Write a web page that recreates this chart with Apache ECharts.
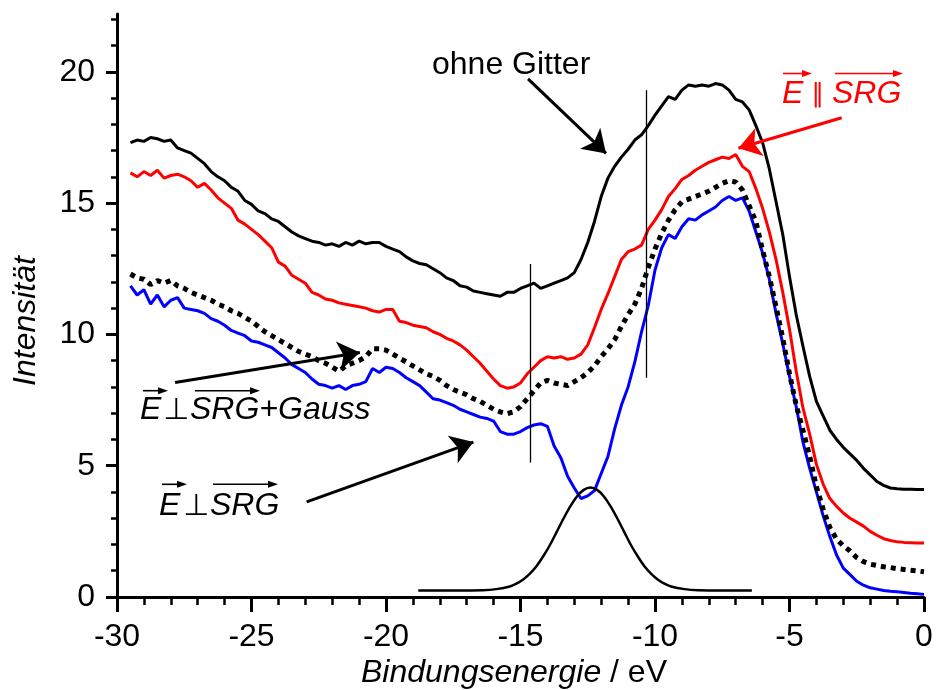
<!DOCTYPE html>
<html>
<head>
<meta charset="utf-8">
<script src="https://cdn.jsdelivr.net/npm/echarts@6/dist/echarts.min.js"></script>
<style>
html, body { margin: 0; padding: 0; background: #fff; }
#chart { width: 936px; height: 690px; }
</style>
</head>
<body>
<div id="chart"></div>
<script>
// Bindungsenergie (eV), gemeinsame Stützstellen der vier Spektren
var energy = [
  -29.5, -29.25, -29, -28.75, -28.5, -28.25, -28, -27.75,
  -27.5, -27.25, -27, -26.75, -26.5, -26.25, -26, -25.75,
  -25.5, -25.25, -25, -24.75, -24.5, -24.25, -24, -23.75,
  -23.5, -23.25, -23, -22.75, -22.5, -22.25, -22, -21.75,
  -21.5, -21.25, -21, -20.75, -20.5, -20.25, -20, -19.75,
  -19.5, -19.25, -19, -18.75, -18.5, -18.25, -18, -17.75,
  -17.5, -17.25, -17, -16.75, -16.5, -16.25, -16, -15.75,
  -15.5, -15.25, -15, -14.75, -14.5, -14.25, -14, -13.75,
  -13.5, -13.25, -13, -12.75, -12.5, -12.25, -12, -11.75,
  -11.5, -11.25, -11, -10.75, -10.5, -10.25, -10, -9.75,
  -9.5, -9.25, -9, -8.75, -8.5, -8.25, -8, -7.75,
  -7.5, -7.25, -7, -6.75, -6.5, -6.25, -6, -5.75,
  -5.5, -5.25, -5, -4.75, -4.5, -4.25, -4, -3.75,
  -3.5, -3.25, -3, -2.75, -2.5, -2.25, -2, -1.75,
  -1.5, -1.25, -1, -0.75, -0.5, -0.25, 0
];
// ohne Gitter (schwarz)
var ohneGitter = [
  17.3, 17.4, 17.35, 17.5, 17.45, 17.35, 17.4, 17.1,
  17.0, 16.9, 16.7, 16.5, 16.2, 16.0, 15.85, 15.6,
  15.45, 15.1, 14.95, 14.7, 14.6, 14.4, 14.3, 14.1,
  13.9, 13.75, 13.65, 13.55, 13.5, 13.4, 13.45, 13.35,
  13.5, 13.4, 13.55, 13.45, 13.5, 13.5, 13.35, 13.25,
  13.15, 12.95, 12.8, 12.7, 12.65, 12.5, 12.35, 12.15,
  12.05, 11.85, 11.8, 11.65, 11.6, 11.55, 11.5, 11.45,
  11.6, 11.6, 11.75, 11.85, 11.95, 11.75, 11.85, 11.95,
  12.05, 12.15, 12.35, 12.85, 13.5, 14.3, 15.25, 15.95,
  16.4, 16.75, 17.05, 17.4, 17.6, 17.95, 18.35, 18.7,
  19.05, 18.95, 19.3, 19.5, 19.45, 19.5, 19.45, 19.55,
  19.5, 19.3, 18.95, 18.85, 18.55, 17.95, 17.3, 16.3,
  15.05, 13.8, 12.2, 10.75, 9.55, 8.4, 7.45, 6.9,
  6.35, 6.0, 5.7, 5.45, 5.2, 4.9, 4.65, 4.4,
  4.25, 4.15, 4.12, 4.1, 4.1, 4.09, 4.09
];
// E parallel SRG (rot)
var eParallel = [
  16.15, 16.0, 16.2, 16.05, 16.25, 15.95, 16.05, 16.1,
  16.0, 15.85, 15.6, 15.75, 15.5, 15.2, 15.0, 14.8,
  14.35, 14.2, 14.0, 13.8, 13.55, 13.3, 12.75, 12.6,
  12.25, 12.1, 11.95, 11.6, 11.5, 11.35, 11.3, 11.2,
  11.15, 11.1, 11.05, 11.0, 10.9, 10.85, 10.95, 10.95,
  10.5, 10.45, 10.35, 10.3, 10.25, 10.1, 10.0, 9.85,
  9.75, 9.6, 9.4, 9.15, 8.9, 8.6, 8.3, 8.05,
  7.95, 8.0, 8.15, 8.5, 8.75, 9.0, 9.15, 9.1,
  9.15, 9.05, 9.1, 9.25, 9.6, 10.25, 10.95, 11.55,
  12.2, 12.85, 13.15, 13.25, 13.4, 14.0, 14.35, 14.75,
  15.25, 15.55, 15.9, 16.05, 16.25, 16.4, 16.55, 16.65,
  16.75, 16.7, 16.85, 16.4, 16.2, 15.55, 14.8, 13.9,
  12.85, 11.6, 10.2, 8.6, 7.2, 6.2, 5.05, 4.3,
  3.75, 3.45, 3.2, 3.0, 2.85, 2.7, 2.5, 2.35,
  2.22, 2.15, 2.1, 2.08, 2.07, 2.06, 2.06
];
// E senkrecht SRG + Gauss (gepunktet)
var ePerpGauss = [
  12.3, 12.15, 12.1, 11.9, 12.05, 11.95, 12.05, 11.85,
  11.75, 11.6, 11.5, 11.4, 11.3, 11.15, 11.05, 10.9,
  10.8, 10.65, 10.5, 10.3, 10.1, 9.95, 9.8, 9.65,
  9.5, 9.35, 9.25, 9.15, 9.0, 8.9, 8.75, 8.6,
  8.8, 8.9, 9.0, 9.15, 9.45, 9.45, 9.4, 9.25,
  9.1, 8.95, 8.8, 8.65, 8.5, 8.4, 8.25, 8.05,
  7.9, 7.8, 7.7, 7.55, 7.45, 7.3, 7.15, 7.05,
  6.98, 7.05, 7.25, 7.55, 7.85, 8.15, 8.25, 8.15,
  8.1, 8.05, 8.2, 8.35, 8.55, 8.8, 9.15, 9.45,
  9.8, 10.3, 10.75, 11.15, 11.75, 12.55, 13.25, 13.85,
  14.35, 14.75, 15.05, 15.15, 15.25, 15.35, 15.45, 15.6,
  15.75, 15.85, 15.8, 15.5, 14.9, 14.3, 13.2, 12.2,
  11.05, 9.85, 8.5, 7.3, 6.35, 5.35, 4.2, 3.35,
  2.65, 2.2, 1.95, 1.75, 1.5, 1.35, 1.25, 1.2,
  1.15, 1.12, 1.08, 1.05, 1.02, 0.99, 0.96
];
// E senkrecht SRG (blau)
var ePerp = [
  11.85, 11.5, 11.7, 11.15, 11.5, 11.05, 11.3, 11.4,
  11.0, 10.95, 10.9, 10.8, 10.6, 10.5, 10.35, 10.15,
  10.05, 9.95, 9.75, 9.7, 9.6, 9.5, 9.3, 9.1,
  8.85, 8.7, 8.55, 8.3, 8.1, 8.05, 7.95, 8.05,
  7.9, 8.05, 8.1, 8.2, 8.7, 8.55, 8.75, 8.7,
  8.55, 8.35, 8.2, 8.05, 7.8, 7.55, 7.5, 7.4,
  7.3, 7.15, 7.05, 6.95, 6.85, 6.8, 6.7, 6.3,
  6.2, 6.2, 6.3, 6.45, 6.55, 6.6, 6.5, 5.75,
  5.3, 4.6, 4.15, 3.75, 3.85, 4.05, 4.7, 5.35,
  6.4, 7.3, 8.0, 8.95, 10.1, 11.1, 12.45, 13.3,
  13.8, 13.65, 14.1, 14.4, 14.35, 14.55, 14.7, 14.85,
  15.1, 15.25, 15.1, 15.2, 14.7, 13.9, 13.1, 12.1,
  10.8, 9.65, 8.4, 7.25, 5.9, 4.9, 4.0, 3.1,
  2.3, 1.6, 1.1, 0.85, 0.6, 0.45, 0.35, 0.3,
  0.25, 0.22, 0.2, 0.17, 0.14, 0.12, 0.1
];
// Gauss-Kurve
var gaussEnergy = [
  -18.8, -17.5, -16.4, -15.9, -15.4, -15.15, -14.9, -14.65, -14.4, -14.15, -13.9,
  -13.65, -13.4, -13.15, -12.9, -12.65, -12.4, -12.15, -11.9, -11.65, -11.4, -11.15,
  -10.9, -10.65, -10.4, -10.15, -9.9, -9.65, -9.4, -8.9, -8.4, -7.4, -6.4
];
var gaussValues = [
  0.25, 0.25, 0.26, 0.3, 0.4, 0.51, 0.67, 0.89, 1.18, 1.56, 1.99,
  2.49, 2.99, 3.45, 3.83, 4.08, 4.17, 4.08, 3.83, 3.45, 2.99, 2.49,
  1.99, 1.56, 1.18, 0.89, 0.67, 0.51, 0.4, 0.3, 0.26, 0.25, 0.25
];
// senkrechte Markierungslinien
var markerEnergy = [-14.65, -10.31];
var markerFrom = [5.12, 8.35];
var markerTo = [12.68, 19.3];
// Achsen
var yMajor = [0, 5, 10, 15, 20];
var yMinor = [1, 2, 3, 4, 6, 7, 8, 9, 11, 12, 13, 14, 16, 17, 18, 19, 21, 22];
// Beschriftungspfeile [von E, von I, nach E, nach I, Farbe]
var arrows = [
  [-14.72, 19.73, -11.82, 16.89, '#000'],
  [-3.06, 18.25, -6.9, 17.09, '#ff0000'],
  [-27.84, 8.17, -20.97, 9.31, '#000'],
  [-22.95, 3.62, -16.75, 5.9, '#000']
];

var FONT = "'Liberation Sans', Arial, sans-serif";

function pairs(xs, ys) {
    var out = [];
    for (var i = 0; i < xs.length; i++) {
        out.push([xs[i], ys[i]]);
    }
    return out;
}

// kleiner Vektorpfeil über Buchstaben
function overArrow(x1, x2, y, color) {
    return [
        { type: 'line', shape: { x1: x1, y1: y, x2: x2 - 6, y2: y }, style: { stroke: color, lineWidth: 1.6 } },
        { type: 'polygon', shape: { points: [[x2, y], [x2 - 10, y - 3.5], [x2 - 10, y + 3.5]] }, style: { fill: color } }
    ];
}

function label(text, x, y, opts) {
    opts = opts || {};
    return {
        type: 'text',
        x: x,
        y: y,
        rotation: opts.rotation || 0,
        style: {
            text: text,
            font: (opts.italic ? 'italic ' : '') + (opts.size || 32) + 'px ' + (opts.family || FONT),
            fill: opts.color || '#000',
            align: opts.align || 'left',
            verticalAlign: 'middle'
        }
    };
}

var graphics = [
    label('ohne Gitter', 432, 65),
    label('E', 782, 94, { italic: true, color: '#ff0000' }),
    label('\u2225', 818, 95, { align: 'center', size: 26, family: "'DejaVu Sans'", color: '#ff0000' }),
    label('SRG', 832, 94, { italic: true, color: '#ff0000' }),
    label('E', 140, 410, { italic: true }),
    label('\u22A5', 176, 411, { align: 'center', size: 30, family: "'DejaVu Sans'" }),
    label('SRG+Gauss', 190, 410, { italic: true }),
    label('E', 159, 506, { italic: true }),
    label('\u22A5', 196, 507, { align: 'center', size: 30, family: "'DejaVu Sans'" }),
    label('SRG', 210, 506, { italic: true }),
    label('Intensität', 26, 321, { italic: true, align: 'center', rotation: Math.PI / 2 }),
    {
        type: 'text',
        x: 514,
        y: 673,
        style: {
            text: '{i|Bindungsenergie} / eV',
            font: '32px ' + FONT,
            fill: '#000',
            align: 'center',
            verticalAlign: 'middle',
            rich: { i: { font: 'italic 32px ' + FONT, fill: '#000' } }
        }
    }
];
graphics = graphics
    .concat(overArrow(783, 812, 73.5, '#ff0000'))
    .concat(overArrow(835, 903, 73.5, '#ff0000'))
    .concat(overArrow(143, 168, 390.7, '#000'))
    .concat(overArrow(195, 260, 390.7, '#000'))
    .concat(overArrow(162, 187, 484.3, '#000'))
    .concat(overArrow(213, 278, 484.3, '#000'));

var markLines = [];
for (var i = 0; i < markerEnergy.length; i++) {
    markLines.push([
        { coord: [markerEnergy[i], markerFrom[i]], symbol: 'none' },
        { coord: [markerEnergy[i], markerTo[i]], symbol: 'none', lineStyle: { color: '#000', width: 1.3, type: 'solid' } }
    ]);
}
arrows.forEach(function (a) {
    markLines.push([
        { coord: [a[0], a[1]], symbol: 'none' },
        { coord: [a[2], a[3]], symbol: 'arrow', symbolSize: 22, lineStyle: { color: a[4], width: 3, type: 'solid' }, itemStyle: { color: a[4] } }
    ]);
});

var chart = echarts.init(document.getElementById('chart'), null, { renderer: 'canvas' });

var option = {
    animation: false,
    backgroundColor: '#fff',
    grid: { left: 117, right: 12, top: 14, bottom: 93 },
    xAxis: {
        type: 'value',
        min: -30,
        max: 0,
        interval: 5,
        axisLine: { onZero: false, lineStyle: { color: '#000', width: 3 } },
        axisTick: { length: 15, lineStyle: { color: '#000', width: 3 } },
        minorTick: { show: true, splitNumber: 5, length: 8, lineStyle: { color: '#000', width: 2.5 } },
        splitLine: { show: false },
        axisLabel: { color: '#000', fontSize: 32, fontFamily: FONT, margin: 24 }
    },
    yAxis: [{
        type: 'value',
        position: 'left',
        min: 0,
        max: 22.2,
        interval: 5,
        axisLine: { show: true, onZero: false, lineStyle: { color: '#000', width: 3 } },
        axisTick: { show: true, length: 11, customValues: yMajor, lineStyle: { color: '#000', width: 3 } },
        axisLabel: { color: '#000', fontSize: 32, fontFamily: FONT, margin: 22, customValues: yMajor },
        splitLine: { show: false }
    }, {
        type: 'value',
        position: 'left',
        min: 0,
        max: 22.2,
        axisLine: { show: false, onZero: false },
        axisTick: { show: true, length: 6, customValues: yMinor, lineStyle: { color: '#000', width: 2.5 } },
        axisLabel: { show: false },
        splitLine: { show: false }
    }],
    graphic: graphics,
    series: [
        {
            name: 'ohne Gitter', type: 'line', showSymbol: false, data: pairs(energy, ohneGitter),
            lineStyle: { color: '#000', width: 3 }, z: 3
        },
        {
            name: 'E || SRG', type: 'line', showSymbol: false, data: pairs(energy, eParallel),
            lineStyle: { color: '#ff0000', width: 3 }, z: 3
        },
        {
            name: 'E ⊥ SRG', type: 'line', showSymbol: false, data: pairs(energy, ePerp),
            lineStyle: { color: '#0000ff', width: 3 }, z: 3
        },
        {
            name: 'E ⊥ SRG + Gauss', type: 'line', showSymbol: false, data: pairs(energy, ePerpGauss),
            lineStyle: { color: '#000', width: 5, type: [5, 5], cap: 'butt' }, z: 4
        },
        {
            name: 'Gauss', type: 'line', showSymbol: false, smooth: 0.3, data: pairs(gaussEnergy, gaussValues),
            lineStyle: { color: '#000', width: 2.5 }, z: 3,
            markLine: { silent: true, animation: false, label: { show: false }, data: markLines }
        }
    ]
};

chart.setOption(option);
</script>
</body>
</html>
